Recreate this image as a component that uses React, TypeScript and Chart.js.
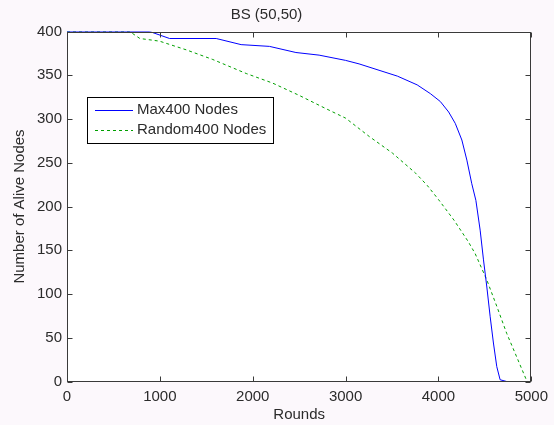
import React, { useEffect, useRef } from "react";
import { Chart, registerables } from "chart.js";

Chart.register(...registerables);

const chartTitle = "BS (50,50)";
const xAxisTitle = "Rounds";
const yAxisTitle = "Number of Alive Nodes";
const seriesNames = ["Max400 Nodes", "Random400 Nodes"];

const roundsMax = [0, 890, 1105, 1607, 1875, 2180, 2465, 2715, 3000, 3145, 3558, 3771, 3913, 4020, 4110, 4181, 4252, 4306, 4359, 4403, 4449, 4485, 4521, 4557, 4592, 4628, 4664, 4735];
const aliveMax = [400, 400, 392, 392, 385, 383, 376, 373, 367, 363, 349, 339, 329, 320, 308, 295, 276, 253, 226, 207, 173, 139, 108, 74, 44, 17, 2, 0];

const roundsRandom = [0, 675, 785, 995, 1285, 1570, 1930, 2215, 2500, 2785, 3000, 3255, 3505, 3755, 3880, 4000, 4170, 4320, 4396, 4521, 4628, 4735, 4843, 4950, 4960];
const aliveRandom = [400, 400, 392, 389, 379, 368, 352, 341, 327, 312, 301, 280, 261, 238, 224, 208, 184, 160, 146, 116, 86, 55, 28, 1, 0];

const xMin = 0, xMax = 5000, xStep = 1000;
const yMin = 0, yMax = 400, yStep = 50;

const FONT = "'Liberation Sans', Arial, sans-serif";
const TEXT = "#2b2b2b";
const AXIS = "#3a3a3a";

const framePlugin = {
  id: "frame",
  beforeDraw(chart: any) {
    const { ctx, chartArea: a, width, height } = chart;
    ctx.save();
    ctx.fillStyle = "#fcf8fc";
    ctx.fillRect(0, 0, width, height);
    ctx.fillStyle = "#ffffff";
    ctx.fillRect(a.left, a.top, a.right - a.left, a.bottom - a.top);
    ctx.restore();
  },
  afterDraw(chart: any) {
    const { ctx, chartArea: a, scales } = chart;
    ctx.save();
    ctx.strokeStyle = AXIS;
    ctx.lineWidth = 1;
    const L = Math.round(a.left) + 0.5, R = Math.round(a.right) - 0.5;
    const T = Math.round(a.top) + 0.5, B = Math.round(a.bottom) - 0.5;
    ctx.strokeRect(L, T, R - L, B - T);
    const tl = 5;
    ctx.beginPath();
    for (const t of scales.x.ticks) {
      const px = Math.round(scales.x.getPixelForValue(t.value)) + 0.5;
      ctx.moveTo(px, B); ctx.lineTo(px, B - tl);
      ctx.moveTo(px, T); ctx.lineTo(px, T + tl);
    }
    for (const t of scales.y.ticks) {
      const py = Math.round(scales.y.getPixelForValue(t.value)) + 0.5;
      ctx.moveTo(L, py); ctx.lineTo(L + tl, py);
      ctx.moveTo(R, py); ctx.lineTo(R - tl, py);
    }
    ctx.stroke();

    // legend box
    const bx = 87, by = 97, bw = 186, bh = 46;
    ctx.fillStyle = "#ffffff";
    ctx.fillRect(bx, by, bw, bh);
    ctx.strokeStyle = "#000000";
    ctx.strokeRect(bx + 0.5, by + 0.5, bw, bh);
    ctx.font = `15px ${FONT}`;
    ctx.textBaseline = "middle";
    ctx.textAlign = "left";
    chart.data.datasets.forEach((ds: any, i: number) => {
      const y = by + 12.5 + i * 20;
      ctx.strokeStyle = ds.borderColor;
      ctx.lineWidth = 1;
      ctx.setLineDash(ds.borderDash || []);
      ctx.beginPath();
      ctx.moveTo(95, Math.round(y) + 0.5);
      ctx.lineTo(133, Math.round(y) + 0.5);
      ctx.stroke();
      ctx.setLineDash([]);
      ctx.fillStyle = TEXT;
      ctx.fillText(ds.label, 137, y);
    });
    ctx.restore();
  },
};

export default function App() {
  const ref = useRef<HTMLCanvasElement | null>(null);
  useEffect(() => {
    if (!ref.current) return;
    const chart = new Chart(ref.current, {
      type: "line",
      data: {
        datasets: [
          {
            label: seriesNames[0],
            data: roundsMax.map((x, i) => ({ x, y: aliveMax[i] })),
            borderColor: "#0000ff",
            borderWidth: 1,
            pointRadius: 0,
            tension: 0,
            fill: false,
          },
          {
            label: seriesNames[1],
            data: roundsRandom.map((x, i) => ({ x, y: aliveRandom[i] })),
            borderColor: "#00a000",
            borderWidth: 1,
            borderDash: [3, 3],
            pointRadius: 0,
            tension: 0,
            fill: false,
          },
        ],
      },
      options: {
        animation: false,
        responsive: false,
        layout: { padding: { left: 0, right: 21, top: 0, bottom: 0 } },
        plugins: {
          legend: { display: false },
          tooltip: { enabled: false },
          title: {
            display: true,
            text: chartTitle,
            color: TEXT,
            font: { family: FONT, size: 15, weight: "normal", lineHeight: 1.2 },
            padding: { top: 6, bottom: 7.5 },
          },
        },
        scales: {
          x: {
            type: "linear",
            min: xMin,
            max: xMax,
            grid: { display: false, drawTicks: false },
            border: { display: false },
            ticks: {
              stepSize: xStep,
              color: TEXT,
              font: { family: FONT, size: 15 },
              padding: 6,
              maxRotation: 0,
              callback: (v: any) => String(v),
            },
            title: { display: true, text: xAxisTitle, color: TEXT, font: { family: FONT, size: 15, lineHeight: 1.2 }, padding: { top: 0, bottom: 1 } },
            afterFit: (s: any) => { s.height = 43.5; },
          },
          y: {
            type: "linear",
            min: yMin,
            max: yMax,
            grid: { display: false, drawTicks: false },
            border: { display: false },
            ticks: {
              stepSize: yStep,
              color: TEXT,
              font: { family: FONT, size: 15 },
              padding: 5,
              callback: (v: any) => String(v),
            },
            title: { display: true, text: yAxisTitle, color: TEXT, font: { family: FONT, size: 15, lineHeight: 1.2 }, padding: { top: 11, bottom: 0 } },
            afterFit: (s: any) => { s.width = 67; },
          },
        },
      },
      plugins: [framePlugin],
    });
    return () => chart.destroy();
  }, []);
  return (
    <div style={{ position: "fixed", left: 0, top: 0, width: 554, height: 425 }}>
      <canvas ref={ref} width={554} height={425} style={{ display: "block" }} />
    </div>
  );
}
